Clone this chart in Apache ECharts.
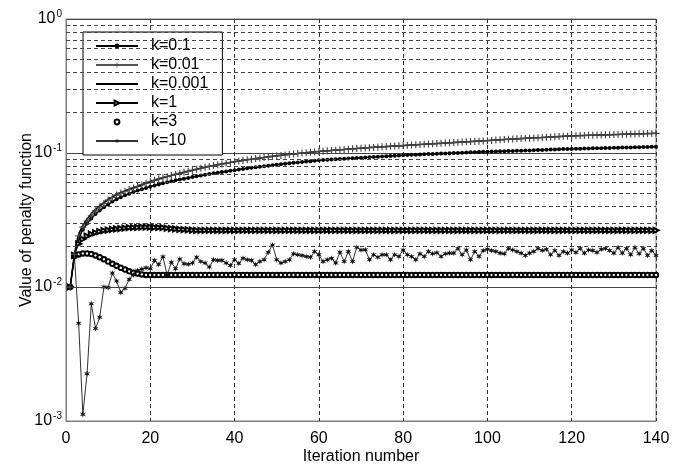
<!DOCTYPE html>
<html>
<head>
<meta charset="utf-8">
<script src="https://cdn.jsdelivr.net/npm/echarts@6/dist/echarts.min.js"></script>
<style>
  html, body { margin: 0; padding: 0; background: #fff; }
  #chart { width: 686px; height: 470px; }
</style>
</head>
<body>
<div id="chart"></div>
<script>
// iteration numbers 1..140
const iterations = Array.from({ length: 140 }, (_, i) => i + 1)
const xTicks = [0, 20, 40, 60, 80, 100, 120, 140]
// minor log grid lines (2..9 of each decade)
const minorTicks = [
  0.002, 0.003, 0.004, 0.005, 0.006, 0.007, 0.008, 0.009,
  0.02, 0.03, 0.04, 0.05, 0.06, 0.07, 0.08, 0.09,
  0.2, 0.3, 0.4, 0.5, 0.6, 0.7, 0.8, 0.9
]
const seriesNames = ['k=0.1', 'k=0.01', 'k=0.001', 'k=1', 'k=3', 'k=10']

const k01 = [
  0.0100, 0.0170, 0.0230, 0.0268, 0.0298, 0.0325, 0.0350, 0.0372, 0.0393, 0.0413,
  0.0434, 0.0452, 0.0468, 0.0483, 0.0497, 0.0511, 0.0524, 0.0537, 0.0549, 0.0561,
  0.0572, 0.0583, 0.0594, 0.0605, 0.0615, 0.0625, 0.0634, 0.0643, 0.0652, 0.0661,
  0.0670, 0.0680, 0.0689, 0.0697, 0.0705, 0.0713, 0.0721, 0.0729, 0.0737, 0.0745,
  0.0753, 0.0761, 0.0768, 0.0775, 0.0782, 0.0789, 0.0796, 0.0803, 0.0810, 0.0817,
  0.0824, 0.0831, 0.0838, 0.0845, 0.0851, 0.0857, 0.0863, 0.0869, 0.0875, 0.0881,
  0.0887, 0.0891, 0.0895, 0.0899, 0.0903, 0.0907, 0.0911, 0.0915, 0.0919, 0.0923,
  0.0927, 0.0931, 0.0935, 0.0939, 0.0943, 0.0947, 0.0951, 0.0955, 0.0959, 0.0963,
  0.0966, 0.0969, 0.0972, 0.0975, 0.0978, 0.0981, 0.0984, 0.0987, 0.0990, 0.0993,
  0.0996, 0.0999, 0.1002, 0.1005, 0.1008, 0.1011, 0.1014, 0.1017, 0.1020, 0.1023,
  0.1026, 0.1028, 0.1030, 0.1032, 0.1034, 0.1036, 0.1038, 0.1040, 0.1043, 0.1046,
  0.1049, 0.1052, 0.1055, 0.1058, 0.1061, 0.1064, 0.1067, 0.1069, 0.1071, 0.1073,
  0.1075, 0.1077, 0.1079, 0.1081, 0.1083, 0.1085, 0.1087, 0.1089, 0.1091, 0.1093,
  0.1095, 0.1097, 0.1099, 0.1101, 0.1103, 0.1105, 0.1107, 0.1109, 0.1111, 0.1113
]
const k001 = [
  0.0100, 0.0175, 0.0240, 0.0280, 0.0310, 0.0340, 0.0370, 0.0395, 0.0420, 0.0445,
  0.0465, 0.0485, 0.0503, 0.0518, 0.0533, 0.0548, 0.0562, 0.0578, 0.0594, 0.0610,
  0.0625, 0.0640, 0.0653, 0.0666, 0.0679, 0.0692, 0.0705, 0.0718, 0.0731, 0.0744,
  0.0757, 0.0770, 0.0782, 0.0794, 0.0806, 0.0817, 0.0828, 0.0839, 0.0850, 0.0860,
  0.0870, 0.0880, 0.0890, 0.0899, 0.0908, 0.0917, 0.0926, 0.0935, 0.0944, 0.0952,
  0.0960, 0.0968, 0.0976, 0.0984, 0.0991, 0.0998, 0.1005, 0.1012, 0.1019, 0.1026,
  0.1032, 0.1038, 0.1044, 0.1050, 0.1056, 0.1062, 0.1068, 0.1074, 0.1080, 0.1086,
  0.1091, 0.1096, 0.1101, 0.1106, 0.1111, 0.1116, 0.1121, 0.1126, 0.1131, 0.1136,
  0.1141, 0.1146, 0.1151, 0.1156, 0.1161, 0.1166, 0.1171, 0.1176, 0.1181, 0.1186,
  0.1191, 0.1196, 0.1201, 0.1206, 0.1211, 0.1216, 0.1221, 0.1226, 0.1231, 0.1236,
  0.1242, 0.1248, 0.1254, 0.1260, 0.1266, 0.1271, 0.1276, 0.1281, 0.1286, 0.1291,
  0.1296, 0.1301, 0.1306, 0.1311, 0.1316, 0.1321, 0.1326, 0.1331, 0.1336, 0.1341,
  0.1345, 0.1348, 0.1351, 0.1354, 0.1357, 0.1360, 0.1363, 0.1366, 0.1369, 0.1372,
  0.1375, 0.1378, 0.1381, 0.1384, 0.1387, 0.1390, 0.1393, 0.1396, 0.1399, 0.1402
]
const k0001 = [
  0.0100, 0.0178, 0.0248, 0.0290, 0.0322, 0.0352, 0.0380, 0.0404, 0.0428, 0.0451,
  0.0471, 0.0490, 0.0507, 0.0522, 0.0537, 0.0551, 0.0565, 0.0580, 0.0596, 0.0611,
  0.0626, 0.0641, 0.0654, 0.0667, 0.0680, 0.0693, 0.0706, 0.0719, 0.0732, 0.0745,
  0.0758, 0.0771, 0.0783, 0.0795, 0.0807, 0.0818, 0.0829, 0.0840, 0.0851, 0.0861,
  0.0871, 0.0881, 0.0891, 0.0900, 0.0909, 0.0918, 0.0927, 0.0936, 0.0945, 0.0953,
  0.0961, 0.0969, 0.0977, 0.0985, 0.0992, 0.0999, 0.1006, 0.1013, 0.1020, 0.1027,
  0.1033, 0.1039, 0.1045, 0.1051, 0.1057, 0.1063, 0.1069, 0.1075, 0.1081, 0.1087,
  0.1092, 0.1097, 0.1102, 0.1107, 0.1112, 0.1117, 0.1122, 0.1127, 0.1132, 0.1137,
  0.1142, 0.1147, 0.1152, 0.1157, 0.1162, 0.1167, 0.1172, 0.1177, 0.1182, 0.1187,
  0.1192, 0.1197, 0.1202, 0.1207, 0.1212, 0.1217, 0.1222, 0.1227, 0.1232, 0.1237,
  0.1243, 0.1249, 0.1255, 0.1261, 0.1267, 0.1272, 0.1277, 0.1282, 0.1287, 0.1292,
  0.1297, 0.1302, 0.1307, 0.1312, 0.1317, 0.1322, 0.1327, 0.1332, 0.1337, 0.1342,
  0.1346, 0.1349, 0.1352, 0.1355, 0.1358, 0.1361, 0.1364, 0.1367, 0.1370, 0.1373,
  0.1376, 0.1379, 0.1382, 0.1385, 0.1388, 0.1391, 0.1394, 0.1397, 0.1400, 0.1403
]
const k1 = [
  0.0100, 0.0172, 0.0210, 0.0228, 0.0240, 0.0248, 0.0254, 0.0259, 0.0263, 0.0266,
  0.0269, 0.0271, 0.0273, 0.0275, 0.0277, 0.0278, 0.0279, 0.0280, 0.0280, 0.0280,
  0.0279, 0.0278, 0.0277, 0.0275, 0.0273, 0.0271, 0.0269, 0.0268, 0.0267, 0.0266,
  0.0265, 0.0265, 0.0265, 0.0265, 0.0265, 0.0265, 0.0265, 0.0265, 0.0265, 0.0265,
  0.0265, 0.0265, 0.0265, 0.0265, 0.0265, 0.0265, 0.0265, 0.0265, 0.0265, 0.0265,
  0.0265, 0.0265, 0.0265, 0.0265, 0.0265, 0.0265, 0.0265, 0.0265, 0.0265, 0.0265,
  0.0265, 0.0265, 0.0265, 0.0265, 0.0265, 0.0265, 0.0265, 0.0265, 0.0265, 0.0265,
  0.0265, 0.0265, 0.0265, 0.0265, 0.0265, 0.0265, 0.0265, 0.0265, 0.0265, 0.0265,
  0.0265, 0.0265, 0.0265, 0.0265, 0.0265, 0.0265, 0.0265, 0.0265, 0.0265, 0.0265,
  0.0265, 0.0265, 0.0265, 0.0265, 0.0265, 0.0265, 0.0265, 0.0265, 0.0265, 0.0265,
  0.0265, 0.0265, 0.0265, 0.0265, 0.0265, 0.0265, 0.0265, 0.0265, 0.0265, 0.0265,
  0.0265, 0.0265, 0.0265, 0.0265, 0.0265, 0.0265, 0.0265, 0.0265, 0.0265, 0.0265,
  0.0265, 0.0265, 0.0265, 0.0265, 0.0265, 0.0265, 0.0265, 0.0265, 0.0265, 0.0265,
  0.0265, 0.0265, 0.0265, 0.0265, 0.0265, 0.0265, 0.0265, 0.0265, 0.0265, 0.0265
]
const k3 = [
  0.0100, 0.0170, 0.0175, 0.0178, 0.0178, 0.0176, 0.0172, 0.0167, 0.0161, 0.0155,
  0.0149, 0.0144, 0.0139, 0.0135, 0.0131, 0.0128, 0.0126, 0.0124, 0.0123, 0.0123,
  0.0123, 0.0123, 0.0123, 0.0123, 0.0123, 0.0123, 0.0123, 0.0123, 0.0123, 0.0123,
  0.0123, 0.0123, 0.0123, 0.0123, 0.0123, 0.0123, 0.0123, 0.0123, 0.0123, 0.0123,
  0.0123, 0.0123, 0.0123, 0.0123, 0.0123, 0.0123, 0.0123, 0.0123, 0.0123, 0.0123,
  0.0123, 0.0123, 0.0123, 0.0123, 0.0123, 0.0123, 0.0123, 0.0123, 0.0123, 0.0123,
  0.0123, 0.0123, 0.0123, 0.0123, 0.0123, 0.0123, 0.0123, 0.0123, 0.0123, 0.0123,
  0.0123, 0.0123, 0.0123, 0.0123, 0.0123, 0.0123, 0.0123, 0.0123, 0.0123, 0.0123,
  0.0123, 0.0123, 0.0123, 0.0123, 0.0123, 0.0123, 0.0123, 0.0123, 0.0123, 0.0123,
  0.0123, 0.0123, 0.0123, 0.0123, 0.0123, 0.0123, 0.0123, 0.0123, 0.0123, 0.0123,
  0.0123, 0.0123, 0.0123, 0.0123, 0.0123, 0.0123, 0.0123, 0.0123, 0.0123, 0.0123,
  0.0123, 0.0123, 0.0123, 0.0123, 0.0123, 0.0123, 0.0123, 0.0123, 0.0123, 0.0123,
  0.0123, 0.0123, 0.0123, 0.0123, 0.0123, 0.0123, 0.0123, 0.0123, 0.0123, 0.0123,
  0.0123, 0.0123, 0.0123, 0.0123, 0.0123, 0.0123, 0.0123, 0.0123, 0.0123, 0.0123
]
const k10 = [
  0.0100, 0.0170, 0.00537, 0.00112, 0.00225, 0.0075, 0.0049, 0.00594, 0.0100, 0.0099,
  0.0127, 0.0111, 0.0091, 0.0098, 0.0114, 0.0123, 0.0133, 0.0136, 0.0139, 0.0137,
  0.0158, 0.0147, 0.0168, 0.0123, 0.0153, 0.0137, 0.0162, 0.0149, 0.0148, 0.0151,
  0.0167, 0.0155, 0.0151, 0.0141, 0.0160, 0.0158, 0.0158, 0.0151, 0.0145, 0.0160,
  0.0150, 0.0164, 0.0160, 0.0158, 0.0147, 0.0155, 0.0160, 0.0182, 0.0206, 0.0160,
  0.0151, 0.0155, 0.0160, 0.0177, 0.0174, 0.0172, 0.0169, 0.0167, 0.0184, 0.0174,
  0.0155, 0.0160, 0.0164, 0.0151, 0.0182, 0.0155, 0.0184, 0.0155, 0.0198, 0.0189,
  0.0190, 0.0160, 0.0174, 0.0167, 0.0174, 0.0174, 0.0160, 0.0174, 0.0169, 0.0189,
  0.0174, 0.0169, 0.0160, 0.0177, 0.0169, 0.0184, 0.0177, 0.0180, 0.0169, 0.0177,
  0.0179, 0.0179, 0.0194, 0.0174, 0.0189, 0.0160, 0.0184, 0.0169, 0.0187, 0.0191,
  0.0187, 0.0184, 0.0179, 0.0177, 0.0194, 0.0189, 0.0184, 0.0179, 0.0172, 0.0179,
  0.0184, 0.0194, 0.0187, 0.0191, 0.0174, 0.0187, 0.0172, 0.0184, 0.0179, 0.0189,
  0.0181, 0.0194, 0.0179, 0.0189, 0.0187, 0.0181, 0.0191, 0.0194, 0.0187, 0.0179,
  0.0197, 0.0179, 0.0194, 0.0174, 0.0197, 0.0177, 0.0194, 0.0172, 0.0187, 0.0172
]

const font = 'Liberation Sans, Arial, Helvetica, sans-serif'
const plusPath = 'path://M0,4.2H10V5.8H0Z M4.2,0H5.8V10H4.2Z'
const starPath = 'path://M5,0 L6,3.3 L9.5,2 L7,5 L9.5,8 L6,6.7 L5,10 L4,6.7 L0.5,8 L3,5 L0.5,2 L4,3.3Z'

function pairs(values) {
  return iterations.map((it, i) => [it, values[i]])
}

const legendData = seriesNames.map((name) =>
  name === 'k=0.001' ? { name, itemStyle: { opacity: 0 } } : { name }
)

const chart = echarts.init(document.getElementById('chart'), null, { renderer: 'canvas' })
const option = {
  animation: false,
  backgroundColor: '#fff',
  textStyle: { fontFamily: font },
  grid: {
    left: 66, right: 30, top: 19, bottom: 43,
    show: true, borderColor: '#7f7f7f', borderWidth: 1, backgroundColor: 'transparent'
  },
  legend: {
    data: legendData,
    orient: 'vertical',
    left: 83,
    top: 32,
    padding: [6, 14, 6, 12],
    itemWidth: 42,
    itemHeight: 6,
    itemGap: 3,
    backgroundColor: '#fff',
    borderColor: '#000',
    borderWidth: 1,
    textStyle: {
      fontFamily: font, fontSize: 16, color: '#000', lineHeight: 16,
      padding: [0, 0, 0, 8]
    }
  },
  xAxis: {
    type: 'value',
    min: xTicks[0],
    max: xTicks[xTicks.length - 1],
    interval: 20,
    name: 'Iteration number',
    nameLocation: 'middle',
    nameGap: 28,
    nameMoveOverlap: false,
    nameTextStyle: { fontFamily: font, fontSize: 16, color: '#000' },
    axisLine: { show: true, lineStyle: { color: '#7f7f7f' } },
    axisTick: { show: false },
    axisLabel: { fontFamily: font, fontSize: 16, color: '#000', margin: 10 },
    splitLine: { show: true, lineStyle: { color: '#333', type: [4, 3], width: 1 } }
  },
  yAxis: {
    type: 'log',
    logBase: 10,
    min: 0.001,
    max: 1,
    name: 'Value of penalty function',
    nameLocation: 'middle',
    nameGap: 31,
    nameMoveOverlap: false,
    nameTextStyle: { fontFamily: font, fontSize: 16, color: '#000' },
    axisLine: { show: true, lineStyle: { color: '#7f7f7f' } },
    axisTick: { show: false },
    axisLabel: {
      margin: 4,
      formatter: (v) => '{b|10}{s|' + Math.round(Math.log10(v)) + '}',
      rich: {
        b: { fontFamily: font, fontSize: 16, color: '#000' },
        s: { fontFamily: font, fontSize: 10, color: '#000', padding: [0, 0, 10, 1] }
      }
    },
    splitLine: { show: true, lineStyle: { color: '#444', width: 1 } }
  },
  series: [
    {
      name: 'minor-grid', type: 'line', data: [], silent: true,
      markLine: {
        silent: true, symbol: 'none', animation: false,
        label: { show: false },
        lineStyle: { color: '#444', type: [4, 3], width: 1 },
        data: minorTicks.map((v) => ({ yAxis: v }))
      }
    },
    {
      name: 'k=3', type: 'line', data: pairs(k3),
      symbol: 'emptyCircle', symbolSize: 4.5,
      lineStyle: { width: 0, color: '#000' },
      itemStyle: { color: '#000', borderColor: '#000', borderWidth: 0.6 }
    },
    {
      name: 'k=1', type: 'line', data: pairs(k1),
      symbol: 'emptyTriangle', symbolSize: 5, symbolRotate: -90,
      lineStyle: { width: 1, color: '#000' },
      itemStyle: { color: '#000', borderColor: '#000', borderWidth: 0.7 }
    },
    {
      name: 'k=10', type: 'line', data: pairs(k10),
      symbol: starPath, symbolSize: 6,
      lineStyle: { width: 1, color: '#333' },
      itemStyle: { color: '#111' }
    },
    {
      name: 'k=0.1', type: 'line', data: pairs(k01),
      symbol: 'circle', symbolSize: 4,
      lineStyle: { width: 1.5, color: '#000' },
      itemStyle: { color: '#000' }
    },
    {
      name: 'k=0.01', type: 'line', data: pairs(k001),
      symbol: plusPath, symbolSize: 7,
      lineStyle: { width: 1, color: '#555' },
      itemStyle: { color: '#444' }
    },
    {
      name: 'k=0.001', type: 'line', data: pairs(k0001),
      symbol: 'none',
      lineStyle: { width: 1.5, color: '#000' },
      itemStyle: { color: '#000' }
    }
  ]
}
option && chart.setOption(option)
</script>
</body>
</html>
